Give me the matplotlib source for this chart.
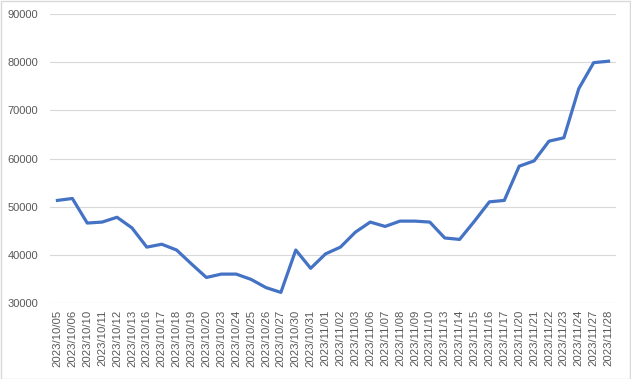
import matplotlib.pyplot as plt
from matplotlib.patches import Rectangle

# trading dates (category axis)
dates = ["2023/10/05", "2023/10/06", "2023/10/10", "2023/10/11", "2023/10/12",
         "2023/10/13", "2023/10/16", "2023/10/17", "2023/10/18", "2023/10/19",
         "2023/10/20", "2023/10/23", "2023/10/24", "2023/10/25", "2023/10/26",
         "2023/10/27", "2023/10/30", "2023/10/31", "2023/11/01", "2023/11/02",
         "2023/11/03", "2023/11/06", "2023/11/07", "2023/11/08", "2023/11/09",
         "2023/11/10", "2023/11/13", "2023/11/14", "2023/11/15", "2023/11/16",
         "2023/11/17", "2023/11/20", "2023/11/21", "2023/11/22", "2023/11/23",
         "2023/11/24", "2023/11/27", "2023/11/28"]

# values
values = [51300, 51700, 46600, 46800, 47800, 45600, 41600, 42200, 41000, 38100,
          35300, 36000, 36000, 34900, 33200, 32200, 41000, 37200, 40200, 41600,
          44700, 46800, 45900, 47000, 47000, 46800, 43500, 43200, 47000, 51000,
          51300, 58400, 59500, 63600, 64300, 74500, 79900, 80200]

yticks = [30000, 40000, 50000, 60000, 70000, 80000, 90000]

plt.rcParams['font.family'] = ['Liberation Sans', 'DejaVu Sans']

fig = plt.figure(figsize=(6.31, 3.79), dpi=100)
ax = fig.add_axes([50 / 631, 76 / 379, 566 / 631, 289 / 379])

x = list(range(len(dates)))
ax.plot(x, values, color="#4472C4", linewidth=2.3, solid_joinstyle="round")

ax.set_xlim(-0.5, len(dates) - 0.5)
ax.set_ylim(30000, 90000)
ax.set_yticks(yticks)
ax.set_yticklabels([str(v) for v in yticks])
ax.set_xticks(x)
ax.set_xticklabels(dates, rotation=90)

ax.grid(axis="y", color="#D9D9D9", linewidth=0.8)
ax.set_axisbelow(True)
for s in ax.spines.values():
    s.set_visible(False)
ax.tick_params(axis="y", length=0, pad=8.5, labelsize=8, labelcolor="#595959")
ax.tick_params(axis="x", length=0, pad=5, labelsize=8.2, labelcolor="#595959")

# light chart border like the spreadsheet chart area
fig.patches.append(Rectangle((0.5 / 631, 0.5 / 379), 629.5 / 631, 377.5 / 379,
                             transform=fig.transFigure, fill=False,
                             edgecolor="#D9D9D9", linewidth=1))

fig.savefig("out.png", dpi=100)
